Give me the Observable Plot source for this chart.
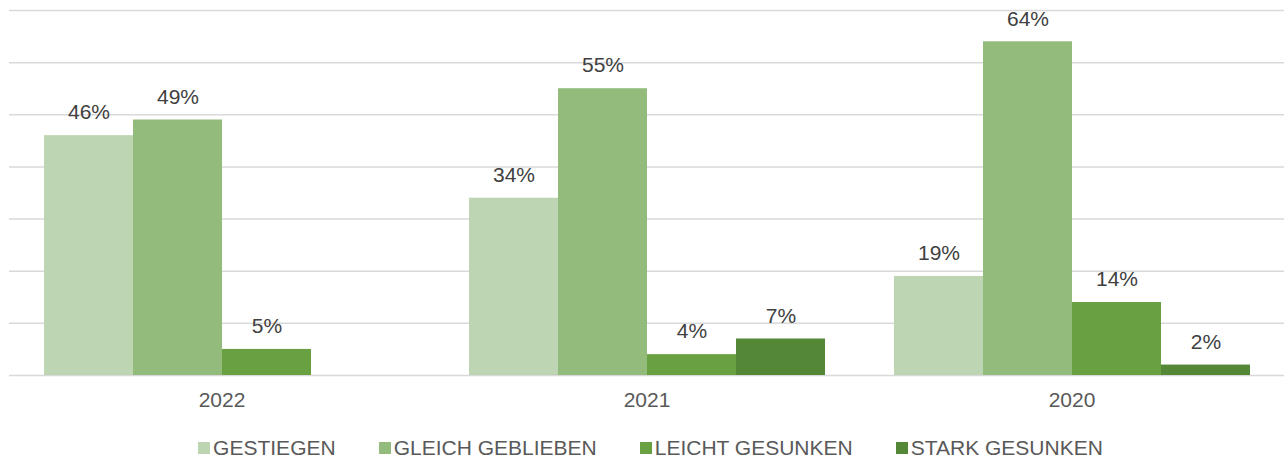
<!DOCTYPE html>
<html>
<head>
<meta charset="utf-8">
<script src="https://cdn.jsdelivr.net/npm/d3@7"></script>
<script src="https://cdn.jsdelivr.net/npm/@observablehq/plot@0.6"></script>
<style>
  html, body { margin: 0; padding: 0; background: #fff; }
  #legend { display: flex; justify-content: center; align-items: center; gap: 43px;
    font-family: "Liberation Sans", Arial, sans-serif; font-size: 21px; color: #595959;
    height: 36px; padding-top: 5px; box-sizing: content-box; padding-left: 14px; }
  #legend .item { display: flex; align-items: center; }
  #legend .sw { width: 12px; height: 12px; margin-right: 3px; display: inline-block; }
</style>
</head>
<body>
<div id="chart"></div>
<div id="legend"></div>
<script>
const years = ["2022", "2021", "2020"];
const series = ["GESTIEGEN", "GLEICH GEBLIEBEN", "LEICHT GESUNKEN", "STARK GESUNKEN"];
const gestiegen = [46, 34, 19];
const gleichGeblieben = [49, 55, 64];
const leichtGesunken = [5, 4, 14];
const starkGesunken = [null, 7, 2];
const colors = ["#bed5b3", "#93bb7b", "#69a142", "#558836"];
const gridTicks = [0, 10, 20, 30, 40, 50, 60, 70];

const data = [];
[gestiegen, gleichGeblieben, leichtGesunken, starkGesunken].forEach((vals, si) => {
  vals.forEach((v, yi) => {
    if (v != null) data.push({year: years[yi], series: series[si], value: v});
  });
});

const W = 1287, ML = 9, MR = 3;
const padInner = 0.16, padOuter = 0.08;
const step = (W - ML - MR) / (years.length - padInner + 2 * padOuter);
const halfGap = step * padInner / 2;

const chart = Plot.plot({
  width: W,
  height: 425,
  marginTop: 10,
  marginBottom: 50,
  marginLeft: ML,
  marginRight: MR,
  style: {fontFamily: "'Liberation Sans', Arial, sans-serif", fontSize: "21px", color: "#595959", background: "white"},
  fx: {domain: years, paddingInner: padInner, paddingOuter: padOuter, axis: "bottom", tickSize: 0, tickPadding: 17, label: null},
  x: {domain: series, padding: 0, axis: null},
  y: {domain: [0, 70], axis: null},
  color: {domain: series, range: colors},
  marks: [
    Plot.ruleY(gridTicks, {stroke: "#d9d9d9", strokeWidth: 1.5, insetLeft: -halfGap, insetRight: -halfGap}),
    Plot.barY(data, {fx: "year", x: "series", y: "value", fill: "series"}),
    Plot.text(data, {fx: "year", x: "series", y: "value", text: d => d.value + "%", dy: -23, fill: "#404040", fontSize: 21})
  ]
});
document.getElementById("chart").appendChild(chart);

const legend = document.getElementById("legend");
series.forEach((s, i) => {
  const item = document.createElement("div");
  item.className = "item";
  const sw = document.createElement("span");
  sw.className = "sw";
  sw.style.background = colors[i];
  const label = document.createElement("span");
  label.textContent = s;
  item.appendChild(sw);
  item.appendChild(label);
  legend.appendChild(item);
});
</script>
</body>
</html>
